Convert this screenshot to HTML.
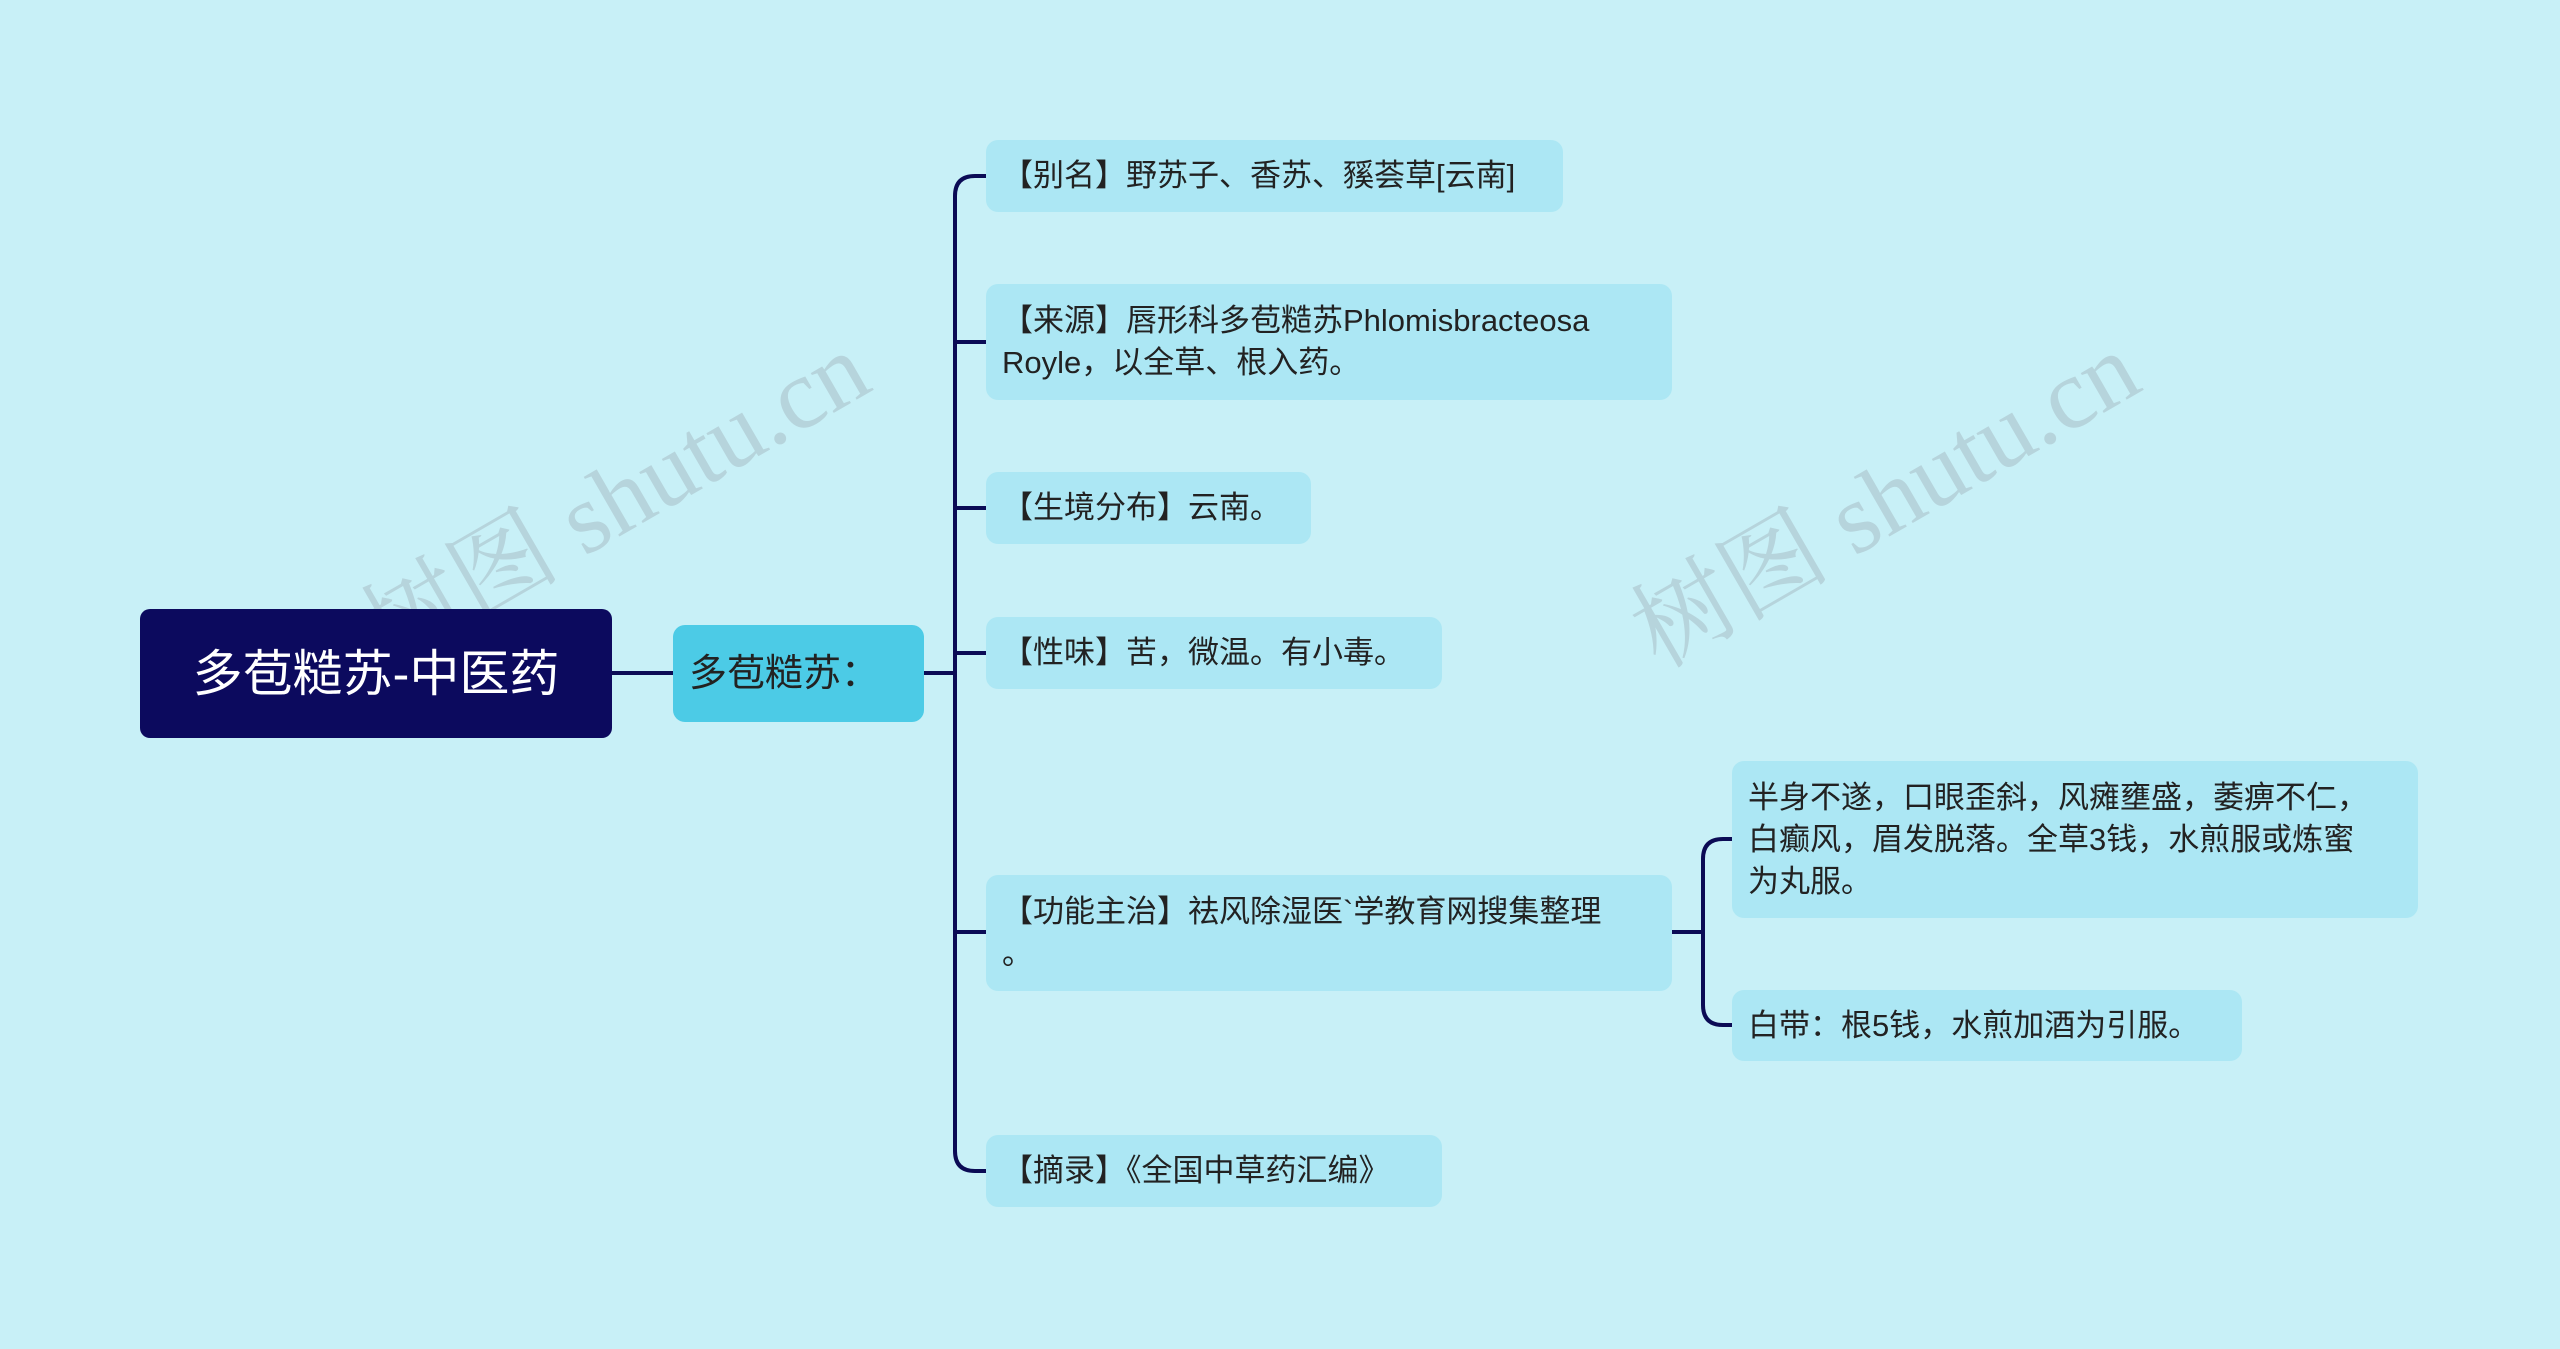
<!DOCTYPE html>
<html><head><meta charset="utf-8"><style>
body{margin:0;width:2560px;height:1349px;background:#c8f0f7;position:relative;overflow:hidden;font-family:"Liberation Sans","Noto Sans CJK SC",sans-serif;}
.n{position:absolute;box-sizing:border-box;border-radius:12px;background:#ace7f4;color:#222;font-size:31px;line-height:42px;padding:0 16px;display:flex;align-items:center;white-space:nowrap;}
.wm{position:absolute;font-size:100px;color:rgba(150,160,170,0.35);transform:rotate(-30deg);font-family:"Liberation Serif","Noto Serif CJK SC",serif;white-space:nowrap;}
</style></head><body>
<div class="wm" style="left:330px;top:420px">树图 shutu.cn</div>
<div class="wm" style="left:1600px;top:420px">树图 shutu.cn</div>
<svg width="2560" height="1349" style="position:absolute;left:0;top:0">
<g fill="none" stroke="#0b0b55" stroke-width="4">
<path d="M612 673 H673"/>
<path d="M924 673 H955"/>
<path d="M986 176 H975 Q955 176 955 196 V1151 Q955 1171 975 1171 H986"/>
<path d="M955 342 H986"/>
<path d="M955 508 H986"/>
<path d="M955 653 H986"/>
<path d="M955 932 H986"/>
<path d="M1672 932 H1703"/>
<path d="M1732 839 H1723 Q1703 839 1703 859 V1005 Q1703 1025 1723 1025 H1732"/>
</g></svg>
<div class="n" style="left:140px;top:609px;width:472px;height:129px;background:#0c0a5e;color:#fff;font-size:50px;justify-content:center;border-radius:10px">多苞糙苏-中医药</div>
<div class="n" style="left:673px;top:625px;width:251px;height:97px;background:#4ccbe6;font-size:38px;color:#222">多苞糙苏：</div>
<div class="n" style="left:986px;top:140px;width:577px;height:72px">【别名】野苏子、香苏、豯荟草[云南]</div>
<div class="n" style="left:986px;top:284px;width:686px;height:116px">【来源】唇形科多苞糙苏Phlomisbracteosa<br>Royle，以全草、根入药。</div>
<div class="n" style="left:986px;top:472px;width:325px;height:72px">【生境分布】云南。</div>
<div class="n" style="left:986px;top:617px;width:456px;height:72px">【性味】苦，微温。有小毒。</div>
<div class="n" style="left:986px;top:875px;width:686px;height:116px">【功能主治】祛风除湿医`学教育网搜集整理<br>。</div>
<div class="n" style="left:986px;top:1135px;width:456px;height:72px">【摘录】《全国中草药汇编》</div>
<div class="n" style="left:1732px;top:761px;width:686px;height:157px">半身不遂，口眼歪斜，风瘫壅盛，萎痹不仁，<br>白癫风，眉发脱落。全草3钱，水煎服或炼蜜<br>为丸服。</div>
<div class="n" style="left:1732px;top:990px;width:510px;height:71px">白带：根5钱，水煎加酒为引服。</div>
</body></html>
